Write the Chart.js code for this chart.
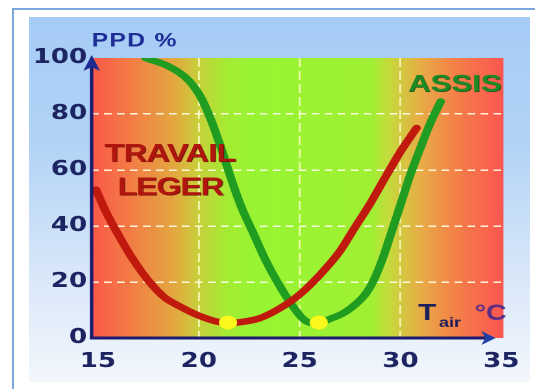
<!DOCTYPE html>
<html>
<head>
<meta charset="utf-8">
<script src="https://cdn.jsdelivr.net/npm/chart.js@4/dist/chart.umd.min.js"></script>
<style>
  html, body { margin: 0; padding: 0; background: #fff; overflow: hidden; width: 535px; height: 389px; }
  #frame { position: absolute; left: 12px; top: 8px; width: 540px; height: 400px; border: 2px solid #7ba7dd; box-sizing: border-box; }
  #panel { position: absolute; left: 29px; top: 17px; width: 501px; height: 365px;
           background: linear-gradient(180deg, #a5ccf6 0%, #b2d3f6 35%, #d3e4f8 65%, #f3f7fc 100%); }
  /* the chart is laid out narrow and widened horizontally */
  #wrap { position: absolute; left: 0; top: 0; width: 412px; height: 389px; transform: scaleX(1.29854); transform-origin: 0 0; }
</style>
</head>
<body>
<div id="frame"></div>
<div id="panel"></div>
<div id="wrap"><canvas id="c"></canvas></div>
<script>
// Axis ticks
const xTicks = [15, 20, 25, 30, 35];          // air temperature, °C
const yTicks = [0, 20, 40, 60, 80, 100];      // PPD, %

// Light work ("TRAVAIL LEGER") curve
const legerT   = [14.9, 15.4, 16.0, 16.7, 17.5, 18.3, 19.0, 20.0, 21.0, 21.45, 22.0, 23.0, 24.0, 25.0, 26.0, 27.0, 27.7, 28.5, 29.3, 30.0, 30.8];
const legerPPD = [53,   45,   37,   28.5, 20.5, 14.5, 11.5, 8,    5.7,  5.3,   5.6,  7,    10.5, 15.5, 22.5, 31,   39,   48,   58,   66.5, 75];

// Seated ("ASSIS") curve
const assisT   = [17.35, 18.5, 19.5, 20.1, 20.6, 21.1, 21.6, 22.1, 22.7, 23.3, 23.9, 24.6, 25.15, 25.5, 25.95, 26.5, 27.2, 27.85, 28.3, 28.7, 29.1, 29.5, 30.0, 30.5, 31.0, 31.5, 32.0];
const assisPPD = [100,   97,   92,   86,   78,   68,   57,   47,   37.5, 28,   20,   12,   7,     5.5,  5.3,   6.8,  9,    12.5,  16,   21,   28,   36.5, 47.5, 58.5, 68,   77,   84.5];

// Optimum (minimum PPD) markers
const optimumT   = [21.45, 25.95];
const optimumPPD = [5.5, 5.5];

const pts = (xs, ys) => xs.map((x, i) => ({ x, y: ys[i] }));

const FONT = '"Liberation Sans", Arial, sans-serif';
const TICK_FONT = '"DejaVu Sans", "Liberation Sans", sans-serif';
const TICK_COLOR = '#1d2462';

const decor = {
  id: 'decor',
  beforeDraw(chart) {
    const { ctx, chartArea: a } = chart;
    const g = ctx.createLinearGradient(a.left, 0, a.right, 0);
    g.addColorStop(0.00, '#fa5848');
    g.addColorStop(0.09, '#f47a46');
    g.addColorStop(0.20, '#e4a640');
    g.addColorStop(0.26, '#c8d03a');
    g.addColorStop(0.33, '#a4ec34');
    g.addColorStop(0.40, '#98f532');
    g.addColorStop(0.68, '#a0f034');
    g.addColorStop(0.72, '#c4dc3c');
    g.addColorStop(0.80, '#e8ac46');
    g.addColorStop(0.88, '#f48248');
    g.addColorStop(1.00, '#fc5650');
    ctx.save();
    ctx.fillStyle = g;
    ctx.fillRect(a.left, a.top, a.right - a.left, a.bottom - a.top);
    ctx.restore();
  },
  afterDraw(chart) {
    const { ctx, chartArea: a } = chart;
    const ys = chart.scales.y;
    const x0 = a.left + 0.6, y0 = ys.getPixelForValue(0);
    ctx.save();

    // axes
    ctx.strokeStyle = '#1b1c6e';
    ctx.lineWidth = 2.6;
    ctx.beginPath();
    ctx.moveTo(x0, y0 + 1.3);
    ctx.lineTo(x0, a.top + 4);
    ctx.stroke();
    ctx.lineWidth = 3;
    ctx.beginPath();
    ctx.moveTo(x0 - 1.3, y0);
    ctx.lineTo(a.right - 10, y0);
    ctx.stroke();

    // y arrow
    ctx.fillStyle = '#1c2a92';
    ctx.beginPath();
    ctx.moveTo(x0, a.top - 3);
    ctx.lineTo(x0 + 6.5, a.top + 13);
    ctx.lineTo(x0, a.top + 9);
    ctx.lineTo(x0 - 6.5, a.top + 13);
    ctx.closePath();
    ctx.fill();

    // x arrow
    const tip = a.right - 6;
    ctx.fillStyle = '#2040a8';
    ctx.beginPath();
    ctx.moveTo(tip, y0);
    ctx.lineTo(tip - 11, y0 - 7);
    ctx.lineTo(tip - 8, y0);
    ctx.lineTo(tip - 11, y0 + 7);
    ctx.closePath();
    ctx.fill();

    // axis titles
    ctx.textBaseline = 'alphabetic';
    ctx.textAlign = 'left';
    ctx.fillStyle = '#1e2d96';
    ctx.font = 'bold 19px ' + FONT;
    ctx.letterSpacing = '1px';
    ctx.fillText('PPD %', 70.6, 46.5);
    ctx.letterSpacing = '0px';

    ctx.fillStyle = '#1b1f5a';
    ctx.font = 'bold 23px ' + FONT;
    ctx.fillText('T', 322, 320);
    ctx.font = 'bold 14px ' + FONT;
    ctx.fillText('air', 338, 327);
    ctx.fillStyle = '#5b2d86';
    ctx.font = 'bold 22px ' + FONT;
    ctx.fillText('°C', 365.5, 320);

    // curve labels
    ctx.shadowColor = '#5c0906';
    ctx.shadowOffsetX = 1.2;
    ctx.shadowOffsetY = 1.2;
    ctx.shadowBlur = 1;
    ctx.fillStyle = '#b0160e';
    ctx.textAlign = 'center';
    ctx.font = 'bold 25px ' + FONT;
    ctx.letterSpacing = '-0.5px';
    ctx.fillText('TRAVAIL', 131, 161.5);
    ctx.letterSpacing = '-1px';
    ctx.fillText('LEGER', 131, 195);

    ctx.shadowColor = '#0b3f0e';
    ctx.fillStyle = '#1d8a26';
    ctx.textAlign = 'left';
    ctx.font = 'bold 24px ' + FONT;
    ctx.letterSpacing = '0px';
    ctx.fillText('ASSIS', 314.2, 91.5);
    ctx.restore();
  }
};

new Chart(document.getElementById('c'), {
  type: 'line',
  data: {
    datasets: [
      { label: 'Optimum', data: pts(optimumT, optimumPPD), showLine: false,
        pointRadius: 7, pointBackgroundColor: '#fbf81c', pointBorderWidth: 0, order: 0 },
      { label: 'Travail léger', data: pts(legerT, legerPPD), borderColor: '#c01a0e', borderWidth: 6.5,
        pointRadius: 0, cubicInterpolationMode: 'monotone', borderCapStyle: 'round', borderJoinStyle: 'round', order: 1 },
      { label: 'Assis', data: pts(assisT, assisPPD), borderColor: '#209c20', borderWidth: 6.5,
        pointRadius: 0, cubicInterpolationMode: 'monotone', borderCapStyle: 'round', borderJoinStyle: 'round', order: 2 }
    ]
  },
  options: {
    responsive: true,
    maintainAspectRatio: false,
    animation: false,
    devicePixelRatio: 2,
    layout: { padding: { left: 0, top: 58, right: 18.5, bottom: 0 } },
    plugins: { legend: { display: false }, tooltip: { enabled: false } },
    scales: {
      x: {
        type: 'linear', min: 14.65, max: 35.11,
        afterBuildTicks: s => { s.ticks = xTicks.map(v => ({ value: v })); },
        afterFit: s => { s.height = 51; },
        grid: { drawTicks: false, lineWidth: 1.4,
                color: c => (c.tick && c.tick.value > 15 && c.tick.value < 35) ? 'rgba(250,250,190,0.9)' : 'transparent' },
        border: { display: false, dash: [9, 4] },
        ticks: { color: TICK_COLOR, font: { family: TICK_FONT, size: 20, weight: 'bold' }, padding: 12, maxRotation: 0, autoSkip: false }
      },
      y: {
        min: 0, max: 100,
        afterBuildTicks: s => { s.ticks = yTicks.map(v => ({ value: v })); },
        afterFit: s => { s.width = 70; },
        grid: { drawTicks: false, lineWidth: 1.5,
                color: c => (c.tick && c.tick.value > 0 && c.tick.value < 100) ? 'rgba(255,255,232,0.92)' : 'transparent' },
        border: { display: false, dash: [6, 4] },
        ticks: { color: TICK_COLOR, font: { family: TICK_FONT, size: 20, weight: 'bold' }, padding: 3 }
      }
    }
  },
  plugins: [decor]
});
</script>
</body>
</html>
